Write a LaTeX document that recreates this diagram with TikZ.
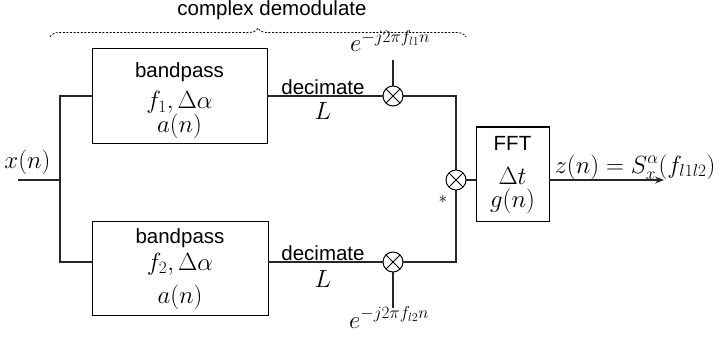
\documentclass[tikz,border=0pt]{standalone}
\usepackage{fontspec}
\setsansfont{Liberation Sans}
\usetikzlibrary{decorations.pathreplacing,arrows.meta}
\begin{document}
\begin{tikzpicture}[x=1pt,y=-1pt,
  every node/.style={inner sep=0pt, outer sep=0pt},
  blk/.style={draw, line width=1pt},
  lbl/.style={font=\fontsize{20.5}{24}\sffamily\selectfont},
  mth/.style={font=\fontsize{25}{28}\selectfont},
  mul/.style={draw, circle, minimum size=20pt, line width=1pt},
  wire/.style={line width=1.1pt, draw=black!85}]
\useasboundingbox (0,0) rectangle (721,337);

% boxes
\node[blk, minimum width=175pt, minimum height=94pt] (bp1) at (179.5,96) {};
\node[blk, minimum width=176pt, minimum height=94pt] (bp2) at (180,268) {};
\node[blk, minimum width=73pt, minimum height=94pt] (fft) at (512.5,174) {};

% box texts
\node[lbl] (bp1a) at (179.5,72) {bandpass};
\node[mth, anchor=base] (bp1b) at (179.5,109) {$f_1,\Delta\alpha$};
\node[mth, anchor=base] (bp1c) at (179.5,132) {$a(n)$};
\node[lbl] (bp2a) at (180,238) {bandpass};
\node[mth, anchor=base] (bp2b) at (180,270) {$f_2,\Delta\alpha$};
\node[mth, anchor=base] (bp2c) at (180,303) {$a(n)$};
\node[lbl] (ffta) at (512.5,143) {FFT};
\node[mth, anchor=base] (fftb) at (512.5,184) {$\Delta t$};
\node[mth, anchor=base] (fftc) at (512.5,207) {$g(n)$};

% multipliers
\node[mul] (m1) at (393,96) {};
\node[mul] (m2) at (393,262) {};
\node[mul] (m3) at (456,180) {};
\foreach \m in {m1,m2,m3}{
  \draw[line width=1pt] (\m.45) -- (\m.225) (\m.135) -- (\m.315);
}

% coordinates
\coordinate (xs) at (18,180);
\coordinate (split) at (60,180);
\coordinate (t1) at (60,96);
\coordinate (t2) at (60,262);
\coordinate (e1) at (393,60);
\coordinate (e2) at (393,308);
\coordinate (out) at (664,180);

% wires
\draw[wire] (xs) -- (split);
\draw[wire] (bp1.west) -- (t1) -- (t2) -- (bp2.west |- t2);
\draw[wire] (bp1.east) -- (m1.west);
\draw[wire] (bp2.east |- m2) -- (m2.west);
\draw[wire] (m1.east) -| (m3.north);
\draw[wire] (m2.east) -| (m3.south);
\draw[wire] (m3.east) -- (fft.west |- m3);
\draw[wire, -{Stealth[length=9pt,width=7pt,inset=3pt]}] (fft.east |- m3) -- (out);
\draw[wire] (e1) -- (m1.north);
\draw[wire] (m2.south) -- (e2);

% labels
\node[mth, anchor=base] (xl) at (27.5,168) {$x(n)$};
\node[lbl] (d1) at (323,87) {decimate};
\node[mth, anchor=base] (L1) at (323,120) {$L$};
\node[lbl] (d2) at (323,253) {decimate};
\node[mth, anchor=base] (L2) at (323,287) {$L$};
\node[mth, anchor=base] (ex1) at (390,52) {$e^{-j2\pi f_{l1}n}$};
\node[mth, anchor=base] (ex2) at (389,328) {$e^{-j2\pi f_{l2}n}$};
\node[font=\fontsize{18}{20}\selectfont] (star) at (443,199) {$*$};
\node[mth, anchor=base] (zl) at (635,173) {$z(n) = S_x^{\alpha}(f_{l1l2})$};

% brace
\coordinate (bl) at (50,37);
\coordinate (br) at (466,37);
\draw[line width=0.8pt, dash pattern=on 2pt off 1.6pt,
  decorate, decoration={brace, amplitude=9pt, aspect=0.5}] (bl) -- (br);
\node[lbl] (cd) at (272,10) {complex demodulate};
\end{tikzpicture}
\end{document}
